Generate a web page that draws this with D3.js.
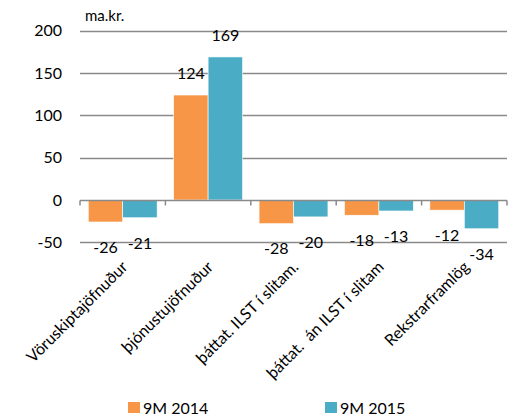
<!DOCTYPE html>
<html>
<head>
<meta charset="utf-8">
<script src="https://cdnjs.cloudflare.com/ajax/libs/d3/7.8.5/d3.min.js"></script>
<style>
  body { margin: 0; background: #fff; }
  svg text { font-family: Lato, "Open Sans", sans-serif; fill: #000; white-space: pre; }
</style>
</head>
<body>
<div id="chart"></div>
<script>
// chart data
var categories = ['Vöruskiptajöfnuður', 'þjónustujöfnuður', 'þáttat. ILST í slitam.', 'þáttat.  án ILST í slitam', 'Rekstrarframlög'];
var seriesNames = ['9M 2014', '9M 2015'];
var values2014 = [-26, 124, -28, -18, -12];
var values2015 = [-21, 169, -20, -13, -34];
var yTicks = [-50, 0, 50, 100, 150, 200];
var unitLabel = 'ma.kr.';

var colors = ['#F79646', '#4BACC6'];
var width = 513, height = 417;
var margin = {left: 80, right: 6, top: 31, bottom: 175};

var svg = d3.select('#chart').append('svg')
  .attr('width', width)
  .attr('height', height);

var x = d3.scaleBand()
  .domain(categories)
  .range([margin.left, width - margin.right])
  .paddingInner(0)
  .paddingOuter(0);

var xInner = d3.scaleBand()
  .domain(seriesNames)
  .range([0, x.bandwidth()])
  .paddingOuter(0.24);

var y = d3.scaleLinear()
  .domain([-50, 200])
  .range([height - margin.bottom + 0.3, margin.top - 0.3]);

// gridlines
svg.append('g')
  .selectAll('line')
  .data(yTicks.filter(function(d) { return d !== 0; }))
  .join('line')
  .attr('x1', margin.left)
  .attr('x2', width - margin.right)
  .attr('y1', function(d) { return Math.round(y(d)) + 0.5; })
  .attr('y2', function(d) { return Math.round(y(d)) + 0.5; })
  .attr('stroke', '#8a8a8a')
  .attr('stroke-width', 1.5);

// y axis labels
svg.append('g')
  .selectAll('text')
  .data(yTicks)
  .join('text')
  .attr('x', 62)
  .attr('y', function(d) { return y(d); })
  .attr('dy', '0.36em')
  .attr('text-anchor', 'end')
  .style('font-size', '16px')
  .text(function(d) { return d; });

svg.append('text')
  .attr('x', 85)
  .attr('y', 21)
  .style('font-size', '15px')
  .text(unitLabel);

// bars
var rows = categories.map(function(c, i) {
  return [
    {cat: c, key: seriesNames[0], value: values2014[i], color: colors[0]},
    {cat: c, key: seriesNames[1], value: values2015[i], color: colors[1]}
  ];
});
var flat = d3.merge(rows);

svg.append('g')
  .selectAll('rect')
  .data(flat)
  .join('rect')
  .attr('x', function(d) { return x(d.cat) + xInner(d.key); })
  .attr('width', xInner.bandwidth())
  .attr('y', function(d) { return y(Math.max(0, d.value)); })
  .attr('height', function(d) { return Math.abs(y(d.value) - y(0)); })
  .attr('fill', function(d) { return d.color; })
  .attr('stroke', '#fff')
  .attr('stroke-width', 0.6);

// zero axis with ticks
var zeroY = Math.round(y(0)) + 0.5;
var axis = svg.append('g').attr('stroke', '#8a8a8a').attr('stroke-width', 1.5);
axis.append('line')
  .attr('x1', margin.left).attr('x2', width - margin.right)
  .attr('y1', zeroY).attr('y2', zeroY);
axis.selectAll('line.tick')
  .data(d3.range(categories.length + 1))
  .join('line')
  .attr('class', 'tick')
  .attr('x1', function(i) { return margin.left + i * x.step(); })
  .attr('x2', function(i) { return margin.left + i * x.step(); })
  .attr('y1', zeroY)
  .attr('y2', zeroY + 5);

// value labels
svg.append('g')
  .selectAll('text')
  .data(flat)
  .join('text')
  .attr('x', function(d) { return x(d.cat) + xInner(d.key) + xInner.bandwidth() / 2; })
  .attr('y', function(d) { return d.value >= 0 ? y(d.value) - 22 : y(d.value) + 25; })
  .attr('dy', '0.36em')
  .attr('text-anchor', 'middle')
  .style('font-size', '16px')
  .text(function(d) { return d.value; });

// category labels
svg.append('g')
  .selectAll('text')
  .data(categories)
  .join('text')
  .attr('transform', function(d) {
    return 'translate(' + (x(d) + x.bandwidth() / 2 + 6) + ',' + 268 + ') rotate(-45)';
  })
  .attr('text-anchor', 'end')
  .style('font-size', '16px')
  .text(function(d) { return d; });

// legend
var legendX = [128, 325];
var legend = svg.append('g')
  .selectAll('g')
  .data(seriesNames)
  .join('g')
  .attr('transform', function(d, i) { return 'translate(' + legendX[i] + ',402)'; });
legend.append('rect')
  .attr('width', 12)
  .attr('height', 11)
  .attr('fill', function(d, i) { return colors[i]; });
legend.append('text')
  .attr('x', 15)
  .attr('y', 11.5)
  .style('font-size', '16px')
  .text(function(d) { return d; });
</script>
</body>
</html>
